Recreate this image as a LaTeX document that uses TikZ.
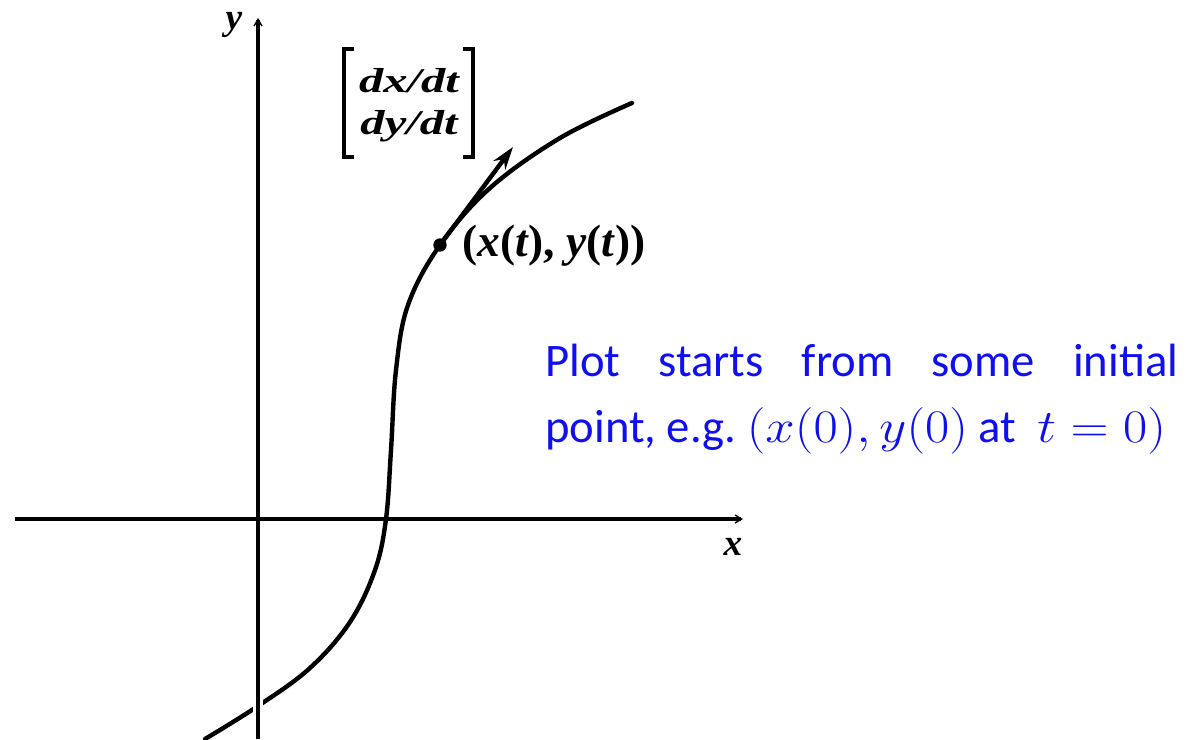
\RequirePackage{fix-cm}
\documentclass[tikz,border=0pt]{standalone}
\usepackage{fontspec}
\setmainfont{Liberation Serif}
\newfontfamily\calib{Carlito}
\usetikzlibrary{arrows.meta}
\definecolor{txtblue}{RGB}{15,15,240}
\begin{document}
\begin{tikzpicture}[x=0.75pt,y=-0.75pt,
  axis/.style={line width=2.5pt},
  curve/.style={line width=3.3pt, line cap=round},
  brk/.style={line width=3.2pt},
  lbl/.style={inner sep=0pt, font=\fontsize{34}{38}\selectfont\bfseries},
  vec/.style={inner sep=0pt, font=\fontsize{26}{28}\selectfont\bfseries\itshape},
  bluetxt/.style={inner sep=0pt, text=txtblue, font=\calib\fontsize{35}{42}\selectfont}]
\useasboundingbox (0,0) rectangle (1202,739);
\fill[white] (0,0) rectangle (1202,739);
% curve
\draw[curve] plot[smooth, tension=0.6] coordinates {(205,739) (258,706) (310,668) (350,622) (375,570) (386,519) (391,450) (396,370) (408,305) (440,245) (490,188) (560,138) (632,103)};
% gap where curve crosses y-axis
\draw[white, line width=7pt] (258,695) -- (258,718);
% axes
\coordinate (ybot) at (258,739);
\coordinate (ytop) at (258,18);
\coordinate (xl) at (15,519);
\coordinate (xr) at (743,519);
\draw[axis, -{Straight Barb[length=5pt,width=6pt,line width=1pt]}] (ybot) -- (ytop);
\draw[axis, -{Straight Barb[length=5pt,width=6pt,line width=1pt]}] (xl) -- (xr);
\node[lbl, font=\fontsize{28}{30}\selectfont\bfseries\itshape] (ylab) at (234,25) {y};
\node[lbl, font=\fontsize{28}{30}\selectfont\bfseries\itshape] (xlab) at (733,547) {x};
% point and tangent
\node[circle, fill=black, inner sep=0pt, minimum size=10pt] (P) at (440,245) {};
\coordinate (T) at (513,147);
\draw[line width=3.3pt, -{Stealth[length=17pt,width=11pt]}] (P.center) -- (T);
\node[lbl, anchor=west] (plab) at (462,246) {(\textit{x}(\textit{t}), \textit{y}(\textit{t}))};
% vector
\node[vec, anchor=base] (dxdt) at (409,92) {\scalebox{1.4}[1]{dx/dt}};
\node[vec, anchor=base] (dydt) at (409,134) {\scalebox{1.4}[1]{dy/dt}};
\draw[brk] (354,49) -- (344,49) -- (344,157) -- (354,157);
\draw[brk] (463,49) -- (473,49) -- (473,157) -- (463,157);
% blue text
\node[bluetxt, anchor=base west] (line1) at (545,376) {\makebox[474.75pt][s]{Plot starts from some initial}};
\node[bluetxt, anchor=base west] (line2) at (545,442) {\frenchspacing point, e.g. \scalebox{1.13}[1]{$(x(0), y(0)$} at \ \scalebox{1.13}[1]{$t=0)$}};
\end{tikzpicture}
\end{document}
